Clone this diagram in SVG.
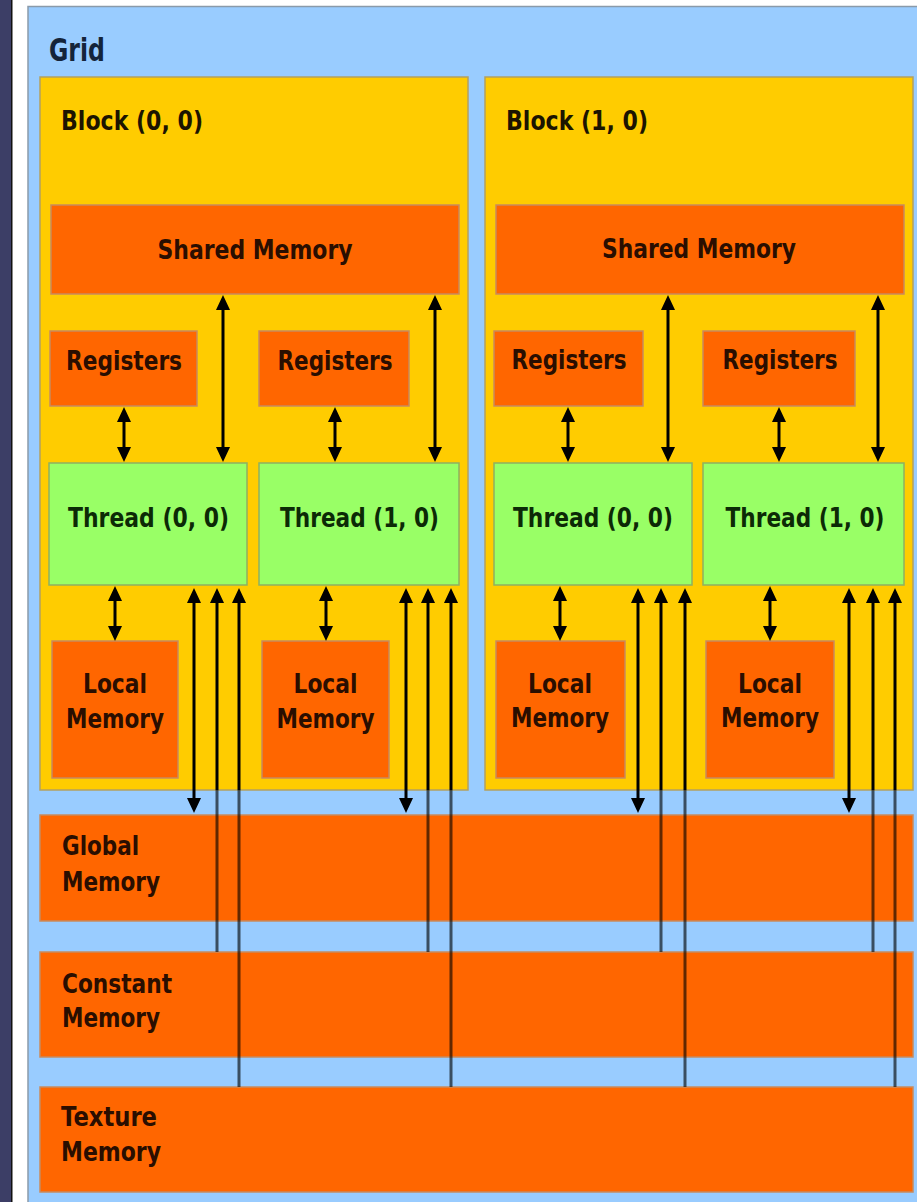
<svg xmlns="http://www.w3.org/2000/svg" width="917" height="1202" viewBox="0 0 917 1202">
<defs>
<style>
.bg{fill:#ffffff}
.strip{fill:#3c3e66}
.grid{fill:#99CCFF;stroke:#8a9aaa;stroke-width:1.5}
.block{fill:#FFCC00;stroke:#b3a060;stroke-width:1.5}
.mem{fill:#FF6600;stroke:#c98a5e;stroke-width:1.5}
.thread{fill:#99FF66;stroke:#8fb060;stroke-width:1.5}
text{font-family:"DejaVu Sans","Liberation Sans",sans-serif;font-weight:bold;font-size:26px}
.tg{fill:#14243a;font-size:32px}
.tb{fill:#1c1400}
.tm{fill:#2a0e00}
.tt{fill:#0c2a06}
.c{text-anchor:middle}
.ln{fill:none;stroke:#000;stroke-width:3}
.fa{fill:none;stroke:#000;stroke-opacity:0.62;stroke-width:3}
</style>
<marker id="ah" markerUnits="userSpaceOnUse" viewBox="0 0 16 16" markerWidth="16" markerHeight="16" refX="9" refY="8" orient="auto-start-reverse">
<path d="M0,1 L15,8 L0,15 Z" fill="#000"/>
</marker>
</defs>

<rect class="bg" x="0" y="0" width="917" height="1202"/>
<rect class="strip" x="0" y="0" width="11" height="1202"/>
<rect x="11" y="0" width="1.5" height="1202" fill="#111"/>

<g id="grid">
<rect class="grid" x="28" y="6.5" width="900" height="1210"/>
<text class="tg" x="49" y="61" textLength="56" lengthAdjust="spacingAndGlyphs">Grid</text>
</g>

<g id="block00">
<rect class="block" x="40" y="77" width="428" height="713"/>
<text class="tb" x="61" y="130" textLength="142" lengthAdjust="spacingAndGlyphs">Block (0, 0)</text>
</g>
<g id="block10">
<rect class="block" x="485" y="77" width="428" height="713"/>
<text class="tb" x="506" y="130" textLength="142" lengthAdjust="spacingAndGlyphs">Block (1, 0)</text>
</g>

<g id="shared0">
<rect class="mem" x="51" y="205" width="408" height="89"/>
<text class="tm c" x="255" y="259" textLength="195" lengthAdjust="spacingAndGlyphs">Shared Memory</text>
</g>
<g id="shared1">
<rect class="mem" x="496" y="205" width="408" height="89"/>
<text class="tm c" x="699" y="258" textLength="194" lengthAdjust="spacingAndGlyphs">Shared Memory</text>
</g>

<g id="reg00">
<rect class="mem" x="50" y="331" width="147" height="75"/>
<text class="tm c" x="124" y="370" textLength="116" lengthAdjust="spacingAndGlyphs">Registers</text>
</g>
<g id="reg01">
<rect class="mem" x="259" y="331" width="150" height="75"/>
<text class="tm c" x="335" y="370" textLength="115" lengthAdjust="spacingAndGlyphs">Registers</text>
</g>
<g id="reg10">
<rect class="mem" x="494" y="331" width="149" height="75"/>
<text class="tm c" x="569" y="369" textLength="115" lengthAdjust="spacingAndGlyphs">Registers</text>
</g>
<g id="reg11">
<rect class="mem" x="703" y="331" width="152" height="75"/>
<text class="tm c" x="780" y="369" textLength="115" lengthAdjust="spacingAndGlyphs">Registers</text>
</g>

<g id="thread00">
<rect class="thread" x="49" y="463" width="198" height="122"/>
<text class="tt c" x="148.5" y="527" textLength="161" lengthAdjust="spacingAndGlyphs">Thread (0, 0)</text>
</g>
<g id="thread01">
<rect class="thread" x="259" y="463" width="200" height="122"/>
<text class="tt c" x="359.5" y="527" textLength="159" lengthAdjust="spacingAndGlyphs">Thread (1, 0)</text>
</g>
<g id="thread10">
<rect class="thread" x="494" y="463" width="198" height="122"/>
<text class="tt c" x="593" y="527" textLength="160" lengthAdjust="spacingAndGlyphs">Thread (0, 0)</text>
</g>
<g id="thread11">
<rect class="thread" x="703" y="463" width="201" height="122"/>
<text class="tt c" x="805" y="527" textLength="159" lengthAdjust="spacingAndGlyphs">Thread (1, 0)</text>
</g>

<g id="local00">
<rect class="mem" x="52" y="641" width="126" height="137"/>
<text class="tm c" x="115" y="693" textLength="64" lengthAdjust="spacingAndGlyphs">Local</text>
<text class="tm c" x="115" y="728" textLength="98" lengthAdjust="spacingAndGlyphs">Memory</text>
</g>
<g id="local01">
<rect class="mem" x="262" y="641" width="127" height="137"/>
<text class="tm c" x="325.5" y="693" textLength="64" lengthAdjust="spacingAndGlyphs">Local</text>
<text class="tm c" x="325.5" y="728" textLength="98" lengthAdjust="spacingAndGlyphs">Memory</text>
</g>
<g id="local10">
<rect class="mem" x="496" y="641" width="129" height="137"/>
<text class="tm c" x="560" y="693" textLength="64" lengthAdjust="spacingAndGlyphs">Local</text>
<text class="tm c" x="560" y="727" textLength="98" lengthAdjust="spacingAndGlyphs">Memory</text>
</g>
<g id="local11">
<rect class="mem" x="706" y="641" width="128" height="137"/>
<text class="tm c" x="770" y="693" textLength="64" lengthAdjust="spacingAndGlyphs">Local</text>
<text class="tm c" x="770" y="727" textLength="98" lengthAdjust="spacingAndGlyphs">Memory</text>
</g>

<g id="global">
<rect class="mem" x="40" y="815" width="873" height="106"/>
<text class="tm" x="62" y="855" textLength="77" lengthAdjust="spacingAndGlyphs">Global</text>
<text class="tm" x="62" y="891" textLength="98" lengthAdjust="spacingAndGlyphs">Memory</text>
</g>
<g id="constant">
<rect class="mem" x="40" y="952" width="873" height="105"/>
<text class="tm" x="62" y="993" textLength="110" lengthAdjust="spacingAndGlyphs">Constant</text>
<text class="tm" x="62" y="1027" textLength="98" lengthAdjust="spacingAndGlyphs">Memory</text>
</g>
<g id="texture">
<rect class="mem" x="40" y="1087" width="873" height="105"/>
<text class="tm" x="61" y="1126" textLength="96" lengthAdjust="spacingAndGlyphs">Texture</text>
<text class="tm" x="61" y="1161" textLength="100" lengthAdjust="spacingAndGlyphs">Memory</text>
</g>

<g id="connectors">
<!-- shared memory <-> thread -->
<path class="ln" d="M223,301 L223,456" marker-start="url(#ah)" marker-end="url(#ah)"/>
<path class="ln" d="M435,301 L435,456" marker-start="url(#ah)" marker-end="url(#ah)"/>
<path class="ln" d="M668,301 L668,456" marker-start="url(#ah)" marker-end="url(#ah)"/>
<path class="ln" d="M878,301 L878,456" marker-start="url(#ah)" marker-end="url(#ah)"/>
<!-- registers <-> thread -->
<path class="ln" d="M124,413 L124,456" marker-start="url(#ah)" marker-end="url(#ah)"/>
<path class="ln" d="M335,413 L335,456" marker-start="url(#ah)" marker-end="url(#ah)"/>
<path class="ln" d="M568,413 L568,456" marker-start="url(#ah)" marker-end="url(#ah)"/>
<path class="ln" d="M779,413 L779,456" marker-start="url(#ah)" marker-end="url(#ah)"/>
<!-- thread <-> local -->
<path class="ln" d="M115,592 L115,635" marker-start="url(#ah)" marker-end="url(#ah)"/>
<path class="ln" d="M326,592 L326,635" marker-start="url(#ah)" marker-end="url(#ah)"/>
<path class="ln" d="M560,592 L560,635" marker-start="url(#ah)" marker-end="url(#ah)"/>
<path class="ln" d="M770,592 L770,635" marker-start="url(#ah)" marker-end="url(#ah)"/>
<!-- thread <-> global -->
<path class="ln" d="M194,594 L194,807" marker-start="url(#ah)" marker-end="url(#ah)"/>
<path class="ln" d="M406,594 L406,807" marker-start="url(#ah)" marker-end="url(#ah)"/>
<path class="ln" d="M638,594 L638,807" marker-start="url(#ah)" marker-end="url(#ah)"/>
<path class="ln" d="M849,594 L849,807" marker-start="url(#ah)" marker-end="url(#ah)"/>
<!-- constant -> thread -->
<path class="ln" d="M217,790 L217,594" marker-end="url(#ah)"/>
<path class="fa" d="M217,790 L217,952"/>
<path class="ln" d="M428,790 L428,594" marker-end="url(#ah)"/>
<path class="fa" d="M428,790 L428,952"/>
<path class="ln" d="M661,790 L661,594" marker-end="url(#ah)"/>
<path class="fa" d="M661,790 L661,952"/>
<path class="ln" d="M873,790 L873,594" marker-end="url(#ah)"/>
<path class="fa" d="M873,790 L873,952"/>
<!-- texture -> thread -->
<path class="ln" d="M239,790 L239,594" marker-end="url(#ah)"/>
<path class="fa" d="M239,790 L239,1087"/>
<path class="ln" d="M451,790 L451,594" marker-end="url(#ah)"/>
<path class="fa" d="M451,790 L451,1087"/>
<path class="ln" d="M685,790 L685,594" marker-end="url(#ah)"/>
<path class="fa" d="M685,790 L685,1087"/>
<path class="ln" d="M895,790 L895,594" marker-end="url(#ah)"/>
<path class="fa" d="M895,790 L895,1087"/>
</g>
</svg>
